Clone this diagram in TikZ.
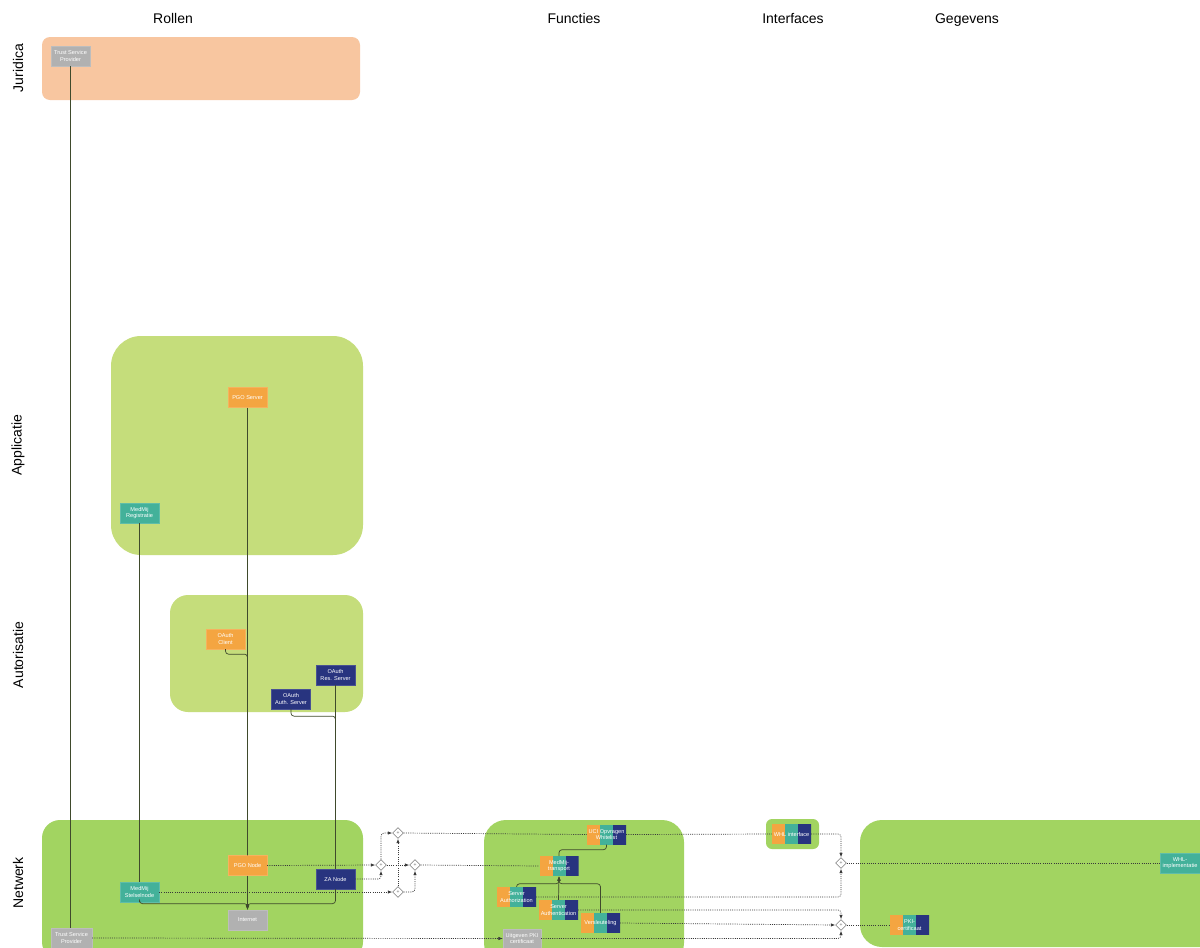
\documentclass[tikz,border=0pt]{standalone}
\usepackage{fontspec}
\setmainfont{Liberation Sans}
\usetikzlibrary{shapes.geometric,arrows.meta}
\definecolor{corange}{HTML}{F4A541}
\definecolor{cteal}{HTML}{43B19A}
\definecolor{cnavy}{HTML}{28347F}
\definecolor{cgray}{HTML}{B1B1B1}
\definecolor{cjur}{HTML}{F8C6A0}
\definecolor{clight}{HTML}{C5DD7B}
\definecolor{cgreen}{HTML}{A2D461}
\definecolor{cline}{HTML}{3F4A2C}
\definecolor{cdot}{HTML}{3A3A3A}
\begin{document}
\begin{tikzpicture}[x=1pt,y=-1pt,
  hdr/.style={font=\fontsize{14}{16}\selectfont, text=black, inner sep=0pt},
  lbl/.style={font=\fontsize{5.6}{6.4}\selectfont, text=white, align=center, inner sep=0pt, minimum width=39pt, minimum height=20pt},
  nd/.style={lbl, fill=#1, draw=#1!85!white, line width=0.3pt},
  tri/.style={lbl, path picture={
     \fill[corange] (path picture bounding box.south west) rectangle +(13pt,20pt);
     \fill[cteal] ([xshift=13pt]path picture bounding box.south west) rectangle +(13pt,20pt);
     \fill[cnavy] ([xshift=26pt]path picture bounding box.south west) rectangle +(13.5pt,20pt);}},
  gate/.style={diamond, draw=black!70, fill=white, line width=0.45pt, minimum width=11pt, minimum height=11pt, inner sep=0pt, font=\fontsize{5}{5}\selectfont, text=black!60},
  rel/.style={draw=cline, line width=0.7pt, rounded corners=3pt},
  flow/.style={draw=cdot, line width=0.7pt, dash pattern=on 1pt off 1.2pt, rounded corners=3pt},
  arr/.style={-{Latex[length=4.5pt,width=3.5pt]}}
]
\clip (0,0) rectangle (1200,948);
\fill[white] (0,0) rectangle (1200,948);

% lanes / groups
\fill[cjur, rounded corners=8pt] (42,37) rectangle (360,100);
\fill[clight, rounded corners=30pt] (111,336) rectangle (363,555);
\fill[clight, rounded corners=18pt] (170,595) rectangle (363,712);
\fill[cgreen, rounded corners=18pt] (42,820) rectangle (363,960);
\fill[cgreen, rounded corners=22pt] (484,820) rectangle (684,965);
\fill[cgreen, rounded corners=6pt] (766,819) rectangle (819,849);
\fill[cgreen, rounded corners=22pt] (860,820) rectangle (1230,947);

% headers
\node[hdr, anchor=base] (hR) at (173,23) {Rollen};
\node[hdr, anchor=base] (hF) at (574,23) {Functies};
\node[hdr, anchor=base] (hI) at (793,23) {Interfaces};
\node[hdr, anchor=base] (hG) at (967,23) {Gegevens};
\node[hdr, rotate=90] (rJ) at (18,68) {Juridica};
\node[hdr, rotate=90] (rA) at (18,445) {Applicatie};
\node[hdr, rotate=90] (rAu) at (18,655) {Autorisatie};
\node[hdr, rotate=90] (rN) at (18,883) {Netwerk};

% Rollen nodes
\node[nd=cgray] (tsp1) at (70.5,56) {Trust Service\\Provider};
\node[nd=corange] (pgoserver) at (247.5,397.5) {PGO Server};
\node[nd=cteal] (mmreg) at (139.5,513) {MedMij\\Registratie};
\node[nd=corange] (oclient) at (225.5,639) {OAuth\\Client};
\node[nd=cnavy] (ores) at (335.5,675) {OAuth\\Res. Server};
\node[nd=cnavy] (oauth) at (291,699) {OAuth\\Auth. Server};
\node[nd=corange] (pgonode) at (247.5,865.5) {PGO Node};
\node[nd=cnavy] (zanode) at (335.5,879) {ZA Node};
\node[nd=cteal] (mmstel) at (139.5,892) {MedMij\\Stelselnode};
\node[nd=cgray] (internet) at (247.5,920) {Internet};
\node[nd=cgray, minimum width=41pt] (tsp2) at (71.5,938) {Trust Service\\Provider};

% gateways
\node[gate] (g0) at (398,833) {+};
\node[gate] (g1) at (381,865) {+};
\node[gate] (g2) at (415,865) {+};
\node[gate] (g3) at (398,892) {+};
\node[gate] (g4) at (841,863) {+};
\node[gate] (g5) at (841,925) {+};

% Functies nodes
\node[tri] (uci) at (606.5,834.5) {UCI Opvragen\\Whitelist};
\node[tri] (transport) at (559,866) {MedMij-\\transport};
\node[tri] (sauthz) at (516.5,897) {Server\\Authorization};
\node[tri] (sauthn) at (558.5,910) {Server\\Authentication};
\node[tri] (versl) at (600.5,923) {Versleuteling};
\node[nd=cgray, minimum width=38pt, minimum height=19pt] (pkiu) at (522,938.5) {Uitgeven PKI\\certificaat};

% Interfaces / Gegevens
\node[tri] (whl) at (791.5,834) {WHL interface};
\node[nd=cteal, minimum width=40pt] (whlimpl) at (1180,863) {WHL-\\implementatie};
\node[tri] (pkicert) at (909.5,925) {PKI-\\certificaat};

% solid relations
\draw[rel] (tsp1.south) -- (tsp1.south |- tsp2.north);
\draw[rel] (pgoserver.south) -- (pgonode.north);
\draw[rel] (mmreg.south) -- (mmstel.north);
\draw[rel] (oclient.south) -- ++(0,5) -| (pgonode.north);
\draw[rel] (ores.south) -- (zanode.north);
\draw[rel] (oauth.south) -- ++(0,7) -| (zanode.north);
\draw[rel, arr] (pgonode.south) -- (internet.north);
\draw[rel, arr] (mmstel.south) -- ++(0,1.5) -| (internet.north);
\draw[rel, arr] (zanode.south) -- ++(0,14.5) -| (internet.north);
\draw[rel] (uci.south) -- ++(0,5) -| (transport.north);
\draw[rel, arr] (sauthz.north) -- ++(0,-3) -| (transport.south);
\draw[rel, arr] (sauthn.north) -- (transport.south);
\draw[rel, arr] (versl.north) -- ++(0,-29) -| (transport.south);

% flows
\draw[flow, arr] (pgonode.east) -- (g1.west);
\draw[flow, arr] (zanode.east) -| (g1.south);
\draw[flow, arr] (mmstel.east) -- (g3.west);
\draw[flow, arr] (tsp2.east) -- (pkiu.west);
\draw[flow, arr] (g1.north) |- (g0.west);
\draw[flow, arr] (g1.east) -- (g2.west);
\draw[flow, arr] (g3.north) -- (g0.south);
\draw[flow, arr] (g3.east) -| (g2.south);
\draw[flow] (g0.east) -- (uci.west);
\draw[flow] (g2.east) -- (transport.west);
\draw[flow] (uci.east) -- (whl.west);
\draw[flow, arr] (whl.east) -| (g4.north);
\draw[flow, arr] (sauthz.east) -| (g4.south);
\draw[flow] (g4.east) -- (whlimpl.west);
\draw[flow, arr] (sauthn.east) -| (g5.north);
\draw[flow, arr] (versl.east) -- (g5.west);
\draw[flow, arr] (pkiu.east) -| (g5.south);
\draw[flow] (g5.east) -- (pkicert.west);
\end{tikzpicture}
\end{document}
